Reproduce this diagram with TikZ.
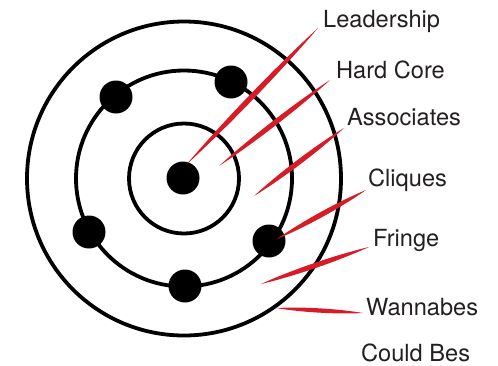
\documentclass[tikz,border=0pt]{standalone}
\usepackage{fontspec}
\setmainfont{TeX Gyre Heros}
\usetikzlibrary{calc}
\definecolor{gangred}{RGB}{214,28,38}
\definecolor{txt}{RGB}{35,31,32}
\tikzset{
  ring/.style={draw=black, line width=3.8pt},
  member/.style={circle, fill=black, minimum size=33pt, inner sep=0pt},
  lbl/.style={anchor=base west, inner sep=0pt, text=txt, font=\fontsize{23.6pt}{26pt}\selectfont},
}
\newcommand{\pointer}[3]{%
  \fill[gangred] (#1) .. controls ($(#1)!0.3!(#2)!#3!90:(#2)$) and ($(#1)!0.7!(#2)!#3!-90:(#1)$) .. (#2)
    .. controls ($(#2)!0.3!(#1)!#3!90:(#1)$) and ($(#2)!0.7!(#1)!#3!-90:(#2)$) .. (#1) -- cycle;}
\begin{document}
\begin{tikzpicture}[x=1pt,y=-1pt]
\useasboundingbox (0,0) rectangle (498,365);
\coordinate (c) at (184,178.5);
\draw[ring] (c) circle[radius=157pt];
\draw[ring] (c) circle[radius=108pt];
\draw[ring] (c) circle[radius=55pt];
\node[member] (lead) at (183,178) {};
\node[member] (m1) at (116,97) {};
\node[member] (m2) at (231,82) {};
\node[member] (m3) at (89,232) {};
\node[member] (m4) at (185,286) {};
\node[member] (m5) at (269,241) {};
\node[lbl] (tLead) at (323,27) {Leadership};
\node[lbl] (tHard) at (336,78) {Hard Core};
\node[lbl] (tAssoc) at (347,125) {Associates};
\node[lbl] (tCliq) at (368,186) {Cliques};
\node[lbl] (tFringe) at (373,246) {Fringe};
\node[lbl] (tWanna) at (366,315) {Wannabes};
\node[lbl] (tCould) at (361,361) {Could Bes};
\coordinate (sLead) at (186,165);
\coordinate (eLead) at (318,28);
\coordinate (sHard) at (219,166);
\coordinate (eHard) at (330,80);
\coordinate (sAssoc) at (254,196);
\coordinate (eAssoc) at (344,128);
\coordinate (sCliq) at (277,239);
\coordinate (eCliq) at (366,190);
\coordinate (sFringe) at (261,284);
\coordinate (eFringe) at (369,247);
\coordinate (sWanna) at (276,308);
\coordinate (eWanna) at (363,313);
\pointer{sLead}{eLead}{3.6pt}
\pointer{sHard}{eHard}{3.4pt}
\pointer{sAssoc}{eAssoc}{3.4pt}
\pointer{sCliq}{eCliq}{3.4pt}
\pointer{sFringe}{eFringe}{3.4pt}
\pointer{sWanna}{eWanna}{2.9pt}
\end{tikzpicture}
\end{document}
